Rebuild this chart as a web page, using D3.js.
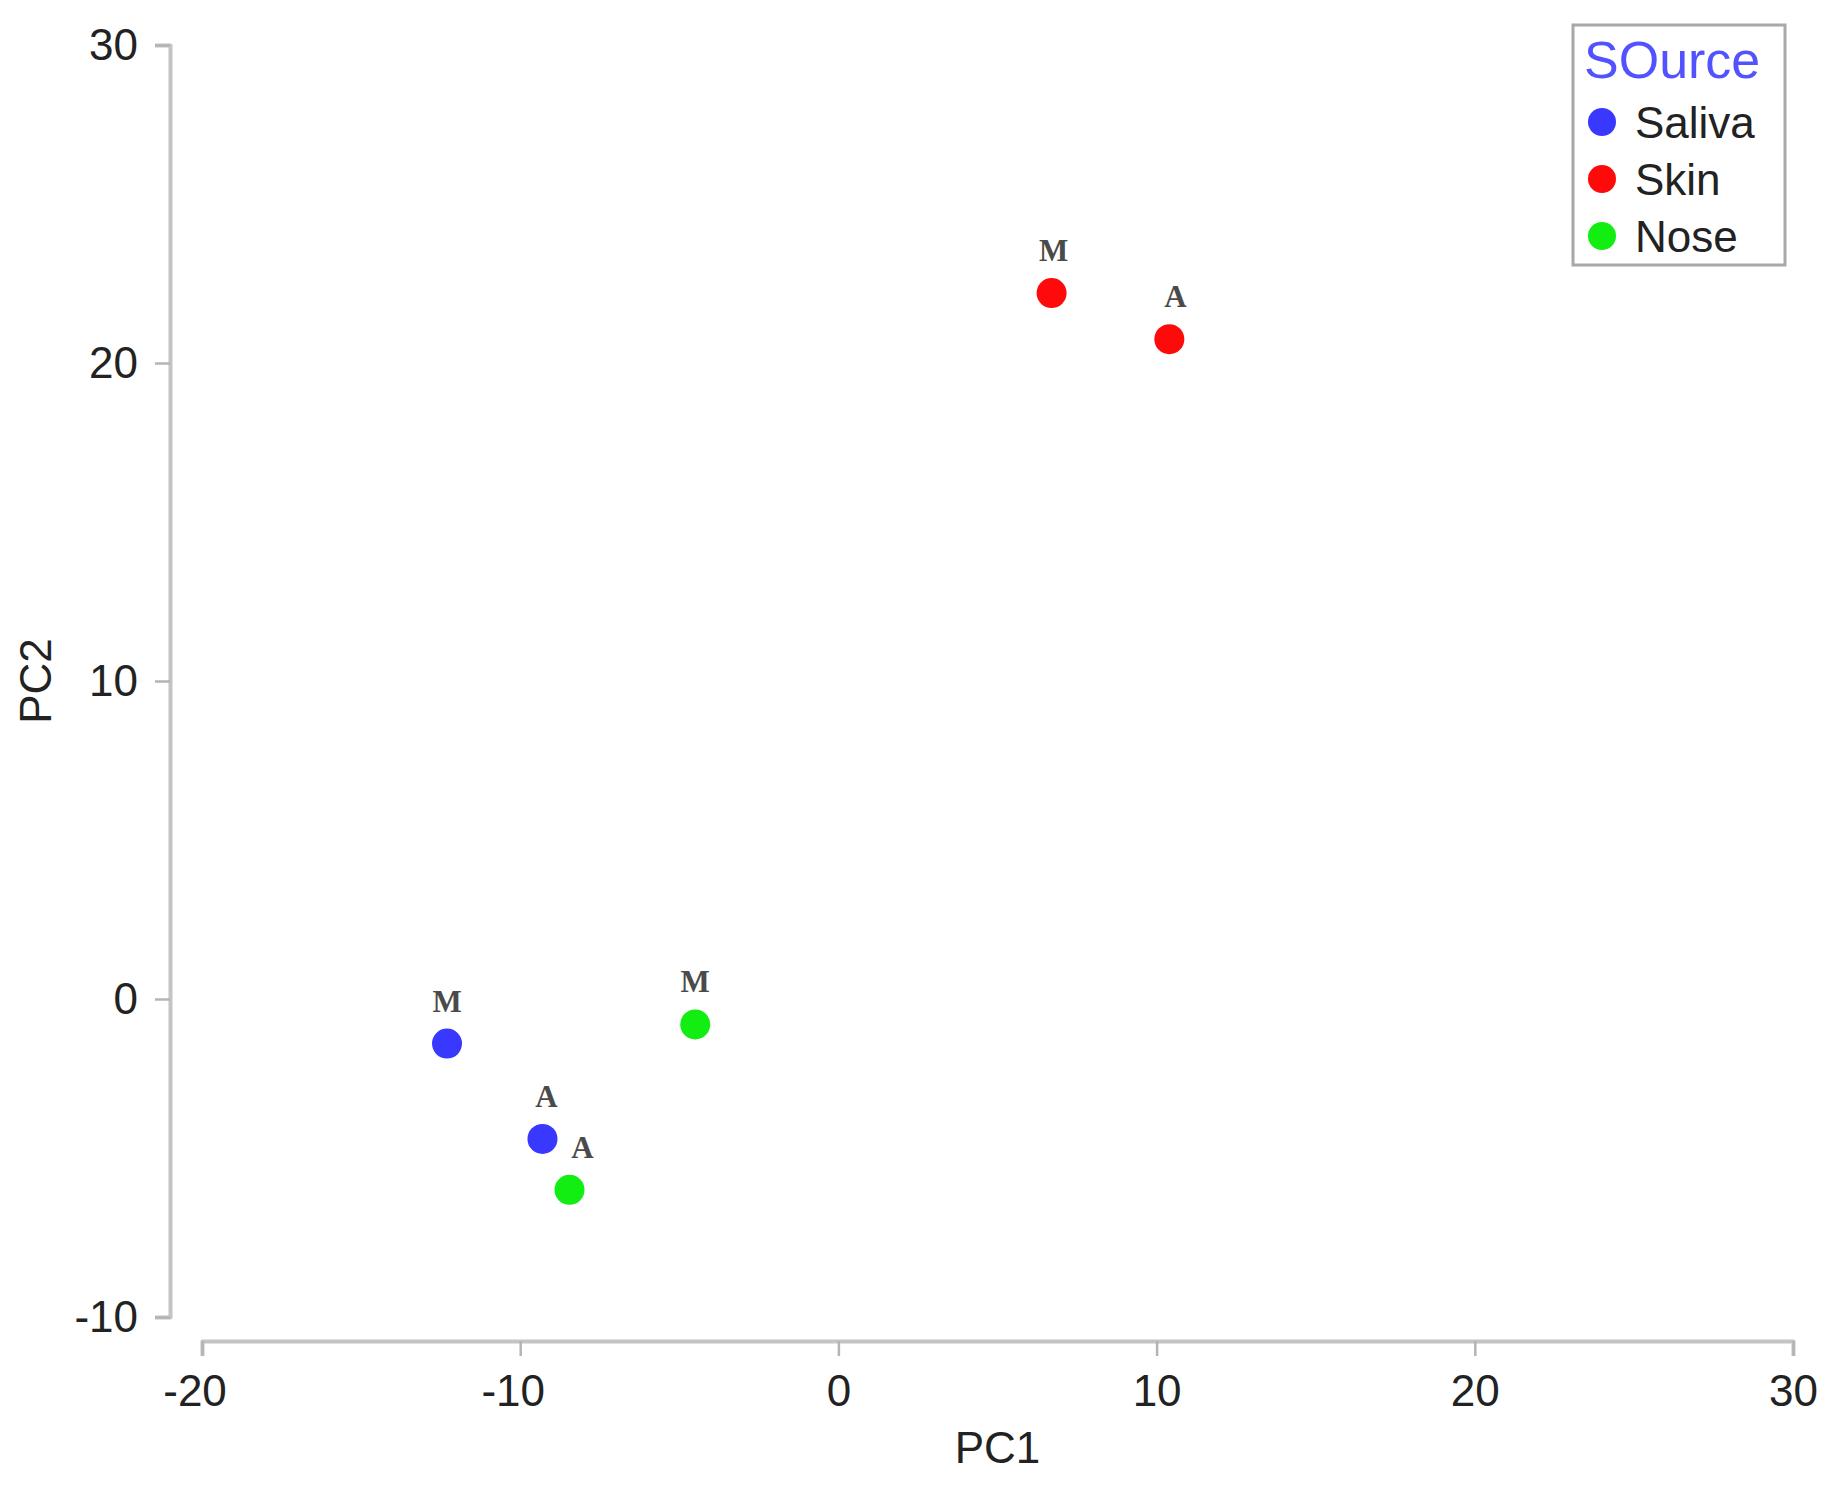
<!DOCTYPE html>
<html>
<head>
<meta charset="utf-8">
<script src="https://cdn.jsdelivr.net/npm/d3@7"></script>
<style>
  html, body { margin: 0; padding: 0; background: #fff; }
  svg { display: block; }
</style>
</head>
<body>
<svg id="chart" width="1844" height="1491"></svg>
<script>
// ---- data ----
const sources = ["Saliva", "Skin", "Nose"];
const sourceColors = ["#3838ff", "#ff0a0a", "#12ee12"];
const sampleSource = ["Saliva", "Saliva", "Skin", "Skin", "Nose", "Nose"];
const sampleLabel = ["M", "A", "M", "A", "M", "A"];
const pc1 = [-12.3, -9.3, 6.7, 10.4, -4.5, -8.45];
const pc2 = [-1.4, -4.4, 22.2, 20.75, -0.8, -6.0];
const xTicks = [-20, -10, 0, 10, 20, 30];
const yTicks = [-10, 0, 10, 20, 30];
const legendTitle = "SOurce";
const xTitle = "PC1";
const yTitle = "PC2";

// ---- layout (not data) ----
const labelNudgeX = [0, 4, 2, 6, 0, 13];
const SANS = "'Liberation Sans', Arial, sans-serif";
const SERIF = "'Liberation Serif', 'Times New Roman', serif";

const svg = d3.select("#chart").style("font-family", SANS);
const x = d3.scaleLinear().domain([-20, 30]).range([202, 1793]);
const y = d3.scaleLinear().domain([-10, 30]).range([1317, 45]);
const color = d3.scaleOrdinal().domain(sources).range(sourceColors);

const fmt = d => (d < 0 ? "-" + Math.abs(d) : String(d));

// X axis
const gx = svg.append("g").attr("transform", "translate(0,1341)")
  .call(d3.axisBottom(x).tickValues(xTicks).tickFormat(fmt).tickSize(15).tickPadding(19));
// Y axis
const gy = svg.append("g").attr("transform", "translate(170,0)")
  .call(d3.axisLeft(y).tickValues(yTicks).tickFormat(fmt).tickSize(15).tickPadding(17));

[gx, gy].forEach(g => {
  g.attr("font-family", null).attr("font-size", null);
  g.select(".domain").attr("stroke", "#c4c4c4").attr("stroke-width", 4)
    .attr("stroke-linejoin", "round").attr("fill", "none");
  g.selectAll(".tick line").attr("stroke", "#b4b4b4").attr("stroke-width", 2.5);
  g.selectAll(".tick text").style("font-size", "44px").style("font-family", SANS)
    .attr("fill", "#222");
});
gx.selectAll(".tick text").attr("dx", d => d < 0 ? "-0.17em" : 0);

// Axis titles
svg.append("text").attr("x", (x(-20) + x(30)) / 2).attr("y", 1463)
  .attr("text-anchor", "middle").style("font-size", "44px").attr("fill", "#222").text(xTitle);
svg.append("text")
  .attr("transform", `translate(51,${(y(-10) + y(30)) / 2}) rotate(-90)`)
  .attr("text-anchor", "middle").style("font-size", "44px").attr("fill", "#222").text(yTitle);

// Points
const pts = pc1.map((v, i) => ({ x: v, y: pc2[i], s: sampleSource[i], l: sampleLabel[i], n: labelNudgeX[i] }));
svg.append("g").selectAll("circle").data(pts).join("circle")
  .attr("cx", d => x(d.x)).attr("cy", d => y(d.y)).attr("r", 15)
  .attr("fill", d => color(d.s));
svg.append("g").selectAll("text").data(pts).join("text")
  .attr("x", d => x(d.x) + d.n).attr("y", d => y(d.y) - 32)
  .attr("text-anchor", "middle")
  .style("font-family", SERIF).style("font-weight", "bold")
  .style("font-size", "31px").attr("fill", "#4a4a4a")
  .text(d => d.l);

// Legend
const lg = svg.append("g");
lg.append("rect").attr("x", 1573).attr("y", 25).attr("width", 212).attr("height", 240)
  .attr("fill", "#fff").attr("stroke", "#a8a8a8").attr("stroke-width", 3);
lg.append("text").attr("x", 1584).attr("y", 78).style("font-size", "52px")
  .attr("fill", "#5252ff").text(legendTitle);
const items = lg.selectAll("g.item").data(sources).join("g").attr("class", "item")
  .attr("transform", (d, i) => `translate(1602,${122 + i * 57})`);
items.append("circle").attr("r", 14).attr("fill", d => color(d));
items.append("text").attr("x", 33).attr("y", 0).attr("dy", "0.36em")
  .style("font-size", "44px").attr("fill", "#222").text(d => d);
</script>
</body>
</html>
